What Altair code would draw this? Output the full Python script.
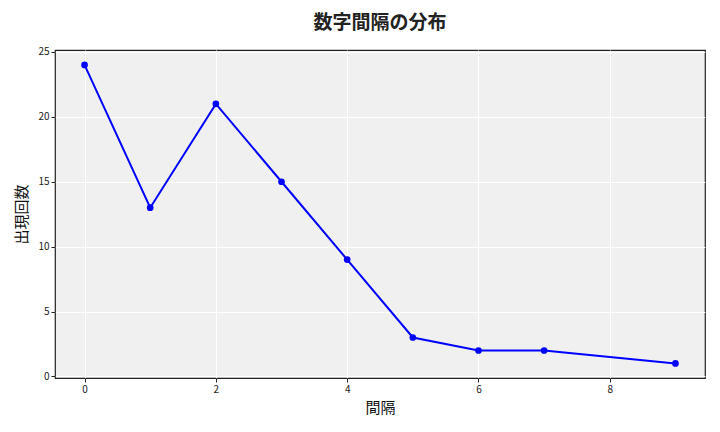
import altair as alt
import pandas as pd

gaps = [0, 1, 2, 3, 4, 5, 6, 7, 9]
counts = [24, 13, 21, 15, 9, 3, 2, 2, 1]

df = pd.DataFrame({"間隔": gaps, "出現回数": counts})

FONT = "Noto Sans CJK JP"

base = alt.Chart(df).encode(
    x=alt.X("間隔:Q",
            scale=alt.Scale(domain=[-0.45, 9.45], nice=False, zero=False),
            axis=alt.Axis(values=[0, 2, 4, 6, 8], title="間隔", grid=True)),
    y=alt.Y("出現回数:Q",
            scale=alt.Scale(domain=[-0.12, 25.15], nice=False, zero=False),
            axis=alt.Axis(values=[0, 5, 10, 15, 20, 25], title="出現回数", grid=True)),
)

line = base.mark_line(color="#0000ff", strokeWidth=2)
pts = base.mark_circle(color="#0000ff", size=45, opacity=1)

chart = (line + pts).properties(
    width=650, height=328,
    title=alt.TitleParams("数字間隔の分布", fontSize=19, font=FONT, fontWeight="bold",
                          anchor="middle", offset=14, color="#222222"),
    autosize=alt.AutoSizeParams(type="none"),
    padding={"left": 47, "top": 42, "right": 7, "bottom": 46},
).configure_view(
    fill="#f0f0f0", stroke="#222222", strokeWidth=1.2
).configure_axis(
    gridColor="#ffffff", gridWidth=1, gridOpacity=1,
    domain=False, tickColor="#222222", tickSize=4,
    labelFont=FONT, labelFontSize=10, labelColor="#222222",
    titleFont=FONT, titleFontSize=15, titleFontWeight="normal", titleColor="#111111",
).configure_axisX(titlePadding=6).configure_axisY(titlePadding=8)

chart.save("out.html", embed_options={"renderer": "svg", "actions": False})
